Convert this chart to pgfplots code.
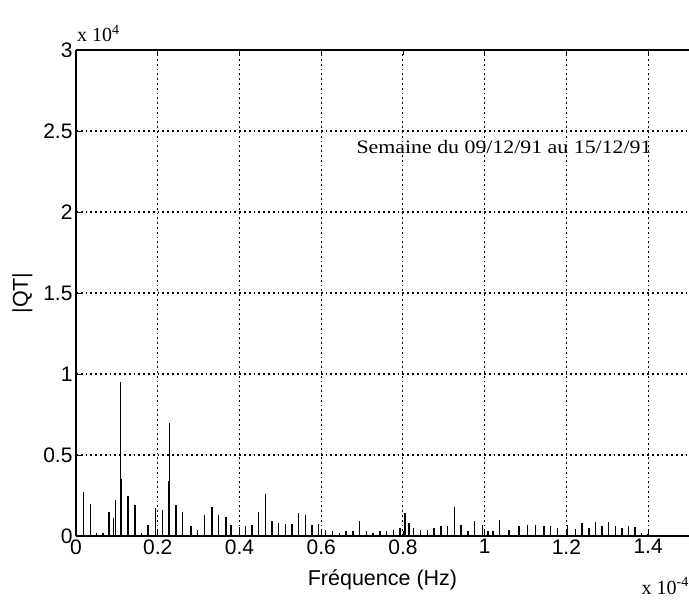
\documentclass[border=0pt]{standalone}
\usepackage{fontspec}
\setmainfont{Liberation Sans}
\newfontfamily\serifwide[FakeStretch=1.15]{Liberation Serif}
\newfontfamily\seriffont{Liberation Serif}
\usepackage{pgfplots}
\pgfplotsset{compat=1.18}
\begin{document}
\begin{tikzpicture}
\begin{axis}[
  scale only axis, width=613pt, height=486pt,
  xmin=0, xmax=1.5, ymin=0, ymax=3,
  clip=false,
  axis x line*=box, axis y line*=left,
  axis line style={-, line width=1.3pt},
  every outer x axis line/.append style={-},
  every outer y axis line/.append style={-},
  xtick={0,0.2,0.4,0.6,0.8,1,1.2,1.4},
  ytick={0,0.5,1,1.5,2,2.5,3},
  xticklabels={0,0.2,0.4,0.6,0.8,1,1.2,1.4},
  yticklabels={0,0.5,1,1.5,2,2.5,3},
  scaled ticks=false,
  grid=major,
  grid style={black, line width=1.1pt, dash pattern=on 1.8pt off 3pt},
  tick style={black, line width=0.8pt}, major tick length=5pt, tick align=inside,
  ticklabel style={font=\fontsize{21}{24}\selectfont},
  /pgf/number format/assume math mode=true,
  xlabel={Fréquence (Hz)}, ylabel={|QT|},
  label style={font=\fontsize{21.5}{25}\selectfont},
  xlabel style={yshift=-8pt},
  ylabel style={yshift=4pt},
]
\addplot[ycomb, black, line width=1.4pt, mark=none] coordinates {
(0.019,0.27) (0.036,0.20) (0.050,0.02) (0.066,0.02) (0.081,0.15)
(0.092,0.11) (0.097,0.22) (0.109,0.95) (0.112,0.35) (0.127,0.25)
(0.144,0.19) (0.160,0.02) (0.176,0.07) (0.195,0.17) (0.212,0.16)
(0.226,0.34) (0.229,0.70) (0.245,0.19) (0.261,0.15) (0.281,0.06)
(0.297,0.04) (0.314,0.13) (0.333,0.18) (0.349,0.13) (0.367,0.12)
(0.379,0.065) (0.400,0.057) (0.415,0.06) (0.431,0.065) (0.447,0.15)
(0.464,0.26) (0.480,0.095) (0.496,0.08) (0.513,0.075) (0.529,0.075)
(0.545,0.14) (0.561,0.13) (0.577,0.07) (0.594,0.075) (0.610,0.035)
(0.628,0.03) (0.645,0.02) (0.661,0.03) (0.678,0.03) (0.694,0.09)
(0.711,0.03) (0.727,0.02) (0.744,0.03) (0.760,0.03) (0.777,0.04)
(0.793,0.05) (0.805,0.14) (0.815,0.08) (0.826,0.05) (0.843,0.04)
(0.860,0.04) (0.876,0.05) (0.893,0.06) (0.909,0.06) (0.926,0.18)
(0.942,0.07) (0.959,0.03) (0.975,0.09) (0.995,0.065) (1.008,0.03)
(1.020,0.03) (1.036,0.10) (1.060,0.04) (1.084,0.06) (1.105,0.065)
(1.125,0.07) (1.145,0.06) (1.161,0.06) (1.178,0.05) (1.202,0.065)
(1.222,0.045) (1.238,0.08) (1.255,0.05) (1.271,0.085) (1.287,0.06)
(1.303,0.085) (1.320,0.06) (1.336,0.05) (1.352,0.06) (1.368,0.055)
(1.384,0.02) (1.400,0.01)
};
\node[anchor=base west, inner sep=0pt, font=\serifwide\fontsize{19}{22}\selectfont]
  at (axis cs:0.686,2.364) {Semaine du 09/12/91 au 15/12/91};
\node[anchor=base west, inner sep=0pt, font=\seriffont\fontsize{20}{22}\selectfont]
  at (rel axis cs:0,1) [xshift=1pt, yshift=8pt] {x 10\textsuperscript{4}};
\node[anchor=base east, inner sep=0pt, font=\seriffont\fontsize{20}{22}\selectfont]
  at (rel axis cs:1,0) [yshift=-58pt] {x 10\textsuperscript{-4}};
\coordinate (BL) at (rel axis cs:0,0);
\coordinate (TR) at (rel axis cs:1,1);
\end{axis}
\pgfresetboundingbox
\path ([xshift=-76pt,yshift=-63pt]BL) rectangle ([yshift=50pt]TR);
\end{tikzpicture}
\end{document}
